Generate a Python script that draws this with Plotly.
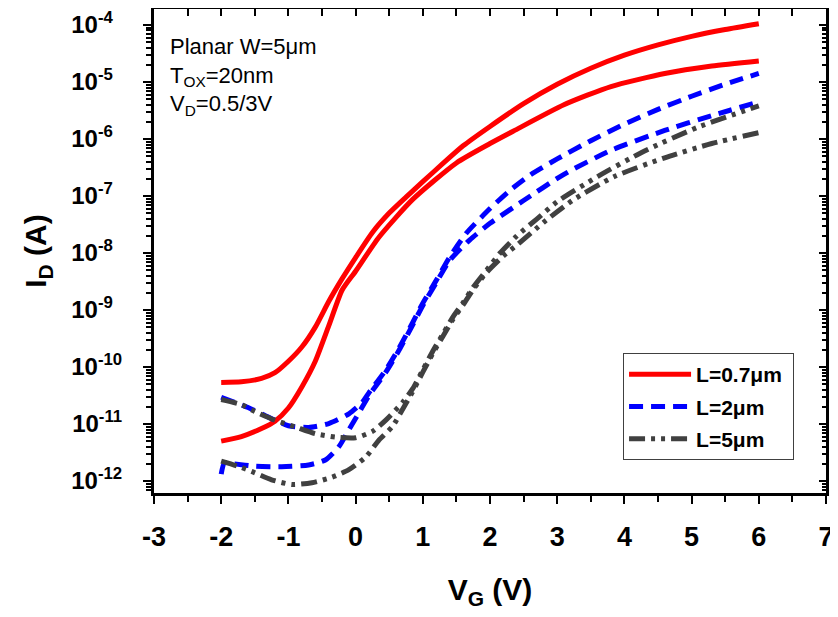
import plotly.graph_objects as go

# ---- data (V_G in volts, I_D in amperes) ----
vg_07_3v = [-2.0,-1.7,-1.4,-1.2,-1.0,-0.8,-0.6,-0.4,-0.2,0.0,0.25,0.5,0.75,1.0,1.3,1.6,2.0,2.5,3.0,3.5,4.0,4.5,5.0,5.5,6.0]
id_07_3v = [5.37e-11,5.50e-11,6.31e-11,7.94e-11,1.26e-10,2.24e-10,5.01e-10,1.41e-9,3.55e-9,8.32e-9,2.29e-8,5.01e-8,9.55e-8,1.78e-7,3.72e-7,7.59e-7,1.66e-6,4.17e-6,9.12e-6,1.74e-5,2.95e-5,4.47e-5,6.31e-5,8.32e-5,1.05e-4]

vg_07_05v = [-2.0,-1.7,-1.4,-1.2,-1.0,-0.8,-0.6,-0.4,-0.2,0.0,0.35,0.85,1.5,2.0,2.35,3.1,3.8,4.6,5.3,6.0]
id_07_05v = [5.01e-12,6.03e-12,8.32e-12,1.12e-11,1.91e-11,4.47e-11,1.26e-10,5.25e-10,2.24e-9,4.79e-9,1.91e-8,8.71e-8,3.80e-7,8.32e-7,1.38e-6,3.98e-6,8.32e-6,1.41e-5,1.91e-5,2.34e-5]

vg_2_3v = [-2.0,-1.6,-1.3,-1.0,-0.7,-0.4,-0.1,0.1,0.2,0.45,0.65,0.85,1.0,1.2,1.4,1.65,2.0,2.3,2.6,3.0,3.5,4.0,4.5,5.0,5.5,6.0]
id_2_3v = [2.95e-11,1.95e-11,1.32e-11,9.33e-12,8.71e-12,1.02e-11,1.51e-11,2.40e-11,3.55e-11,8.91e-11,2.19e-10,6.03e-10,1.32e-9,3.31e-9,8.51e-9,2.24e-8,6.03e-8,1.26e-7,2.34e-7,4.47e-7,9.33e-7,1.82e-6,3.31e-6,5.62e-6,9.12e-6,1.41e-5]

vg_2_05v = [-2.0,-1.95,-1.8,-1.5,-1.1,-0.7,-0.45,-0.25,-0.1,0.05,0.2,0.45,0.65,0.85,1.0,1.2,1.4,1.7,2.0,2.5,3.1,3.8,4.6,5.3,6.0]
id_2_05v = [1.32e-12,2.09e-12,2.00e-12,1.82e-12,1.78e-12,1.91e-12,2.34e-12,3.98e-12,7.94e-12,1.58e-11,3.16e-11,8.13e-11,2.00e-10,5.50e-10,1.20e-9,3.02e-9,7.41e-9,1.70e-8,3.31e-8,8.32e-8,2.40e-7,6.31e-7,1.41e-6,2.57e-6,4.47e-6]

vg_5_3v = [-2.0,-1.7,-1.5,-1.2,-0.9,-0.6,-0.3,0.0,0.25,0.45,0.7,0.85,1.0,1.15,1.3,1.45,1.6,1.75,1.95,2.15,2.4,2.7,3.0,3.6,4.3,5.1,5.8,6.0]
id_5_3v = [2.69e-11,2.19e-11,1.66e-11,1.17e-11,8.91e-12,6.76e-12,5.89e-12,5.75e-12,7.41e-12,1.17e-11,2.40e-11,4.17e-11,8.91e-11,1.91e-10,3.80e-10,7.59e-10,1.35e-9,2.51e-9,5.01e-9,1.00e-8,2.00e-8,3.98e-8,7.94e-8,2.19e-7,6.17e-7,1.62e-6,3.16e-6,3.80e-6]

vg_5_05v = [-2.0,-1.75,-1.55,-1.25,-0.95,-0.65,-0.35,-0.1,0.15,0.35,0.55,0.7,0.85,1.0,1.15,1.3,1.45,1.6,1.75,1.95,2.2,2.4,2.8,3.25,3.85,4.6,5.3,6.0]
id_5_05v = [2.24e-12,1.82e-12,1.48e-12,1.05e-12,8.71e-13,9.33e-13,1.17e-12,1.58e-12,2.63e-12,5.25e-12,9.12e-12,1.82e-11,3.72e-11,8.13e-11,1.74e-10,3.47e-10,6.92e-10,1.23e-9,2.29e-9,4.57e-9,8.91e-9,1.38e-8,3.47e-8,8.71e-8,2.19e-7,4.68e-7,8.32e-7,1.29e-6]

legend_names = ["L=0.7\u03bcm\u00a0", "L=2\u03bcm", "L=5\u03bcm"]
x_tick_values = [-3, -2, -1, 0, 1, 2, 3, 4, 5, 6, 7]
x_tick_labels = ["-3", "-2", "-1", "0", "1", "2", "3", "4", "5", "6", "7"]
y_tick_exponents = [-12, -11, -10, -9, -8, -7, -6, -5, -4]
x_range = [-3, 7]
y_range_log = [-12.21, -3.72]

y_tick_values = [10.0 ** e for e in y_tick_exponents]
# labels roughly left-aligned as in the original: pad one-digit exponents
y_tick_labels = ["10<sup>%d%s</sup>" % (e, "" if e <= -10 else "\u00a0\u00a0") for e in y_tick_exponents]

RED = "#FF0000"
BLUE = "#0000FF"
GRAY = "#404040"
BLUE_DASH = "14px,8px"
GRAY_DASH = "16px,6px,4px,6px,4px,6px"

fig = go.Figure()

def add(x, y, color, dash, name, show):
    fig.add_trace(go.Scatter(
        x=x, y=y, mode="lines", name=name, showlegend=show, legendgroup=name,
        line=dict(color=color, width=5, dash=dash, shape="spline", smoothing=0.6),
        hoverinfo="skip"))

add(vg_07_3v, id_07_3v, RED, "solid", legend_names[0], True)
add(vg_07_05v, id_07_05v, RED, "solid", legend_names[0], False)
add(vg_2_3v, id_2_3v, BLUE, BLUE_DASH, legend_names[1], True)
add(vg_2_05v, id_2_05v, BLUE, BLUE_DASH, legend_names[1], False)
add(vg_5_3v, id_5_3v, GRAY, GRAY_DASH, legend_names[2], True)
add(vg_5_05v, id_5_05v, GRAY, GRAY_DASH, legend_names[2], False)

# dummy trace for the mirrored (top/right) axes
fig.add_trace(go.Scatter(x=[None], y=[None], xaxis="x2", yaxis="y2",
                         showlegend=False, hoverinfo="skip"))

FONT = "Liberation Sans"
# the page body has an 8px margin, so the figure is 830x609 drawn at (8, 8)
fig.update_layout(
    width=830, height=609,
    margin=dict(l=146, r=12, t=1, b=124, autoexpand=False),
    paper_bgcolor="white", plot_bgcolor="white",
    font=dict(family=FONT, color="black"),
    showlegend=True,
    legend=dict(x=0.698, y=0.289, xanchor="left", yanchor="top",
                bordercolor="#404040", borderwidth=1, bgcolor="white",
                font=dict(family=FONT, size=21, color="black", weight="bold"),
                tracegroupgap=2, itemwidth=62),
    xaxis=dict(range=x_range, tickmode="array", tickvals=x_tick_values, ticktext=x_tick_labels,
               automargin=False, showgrid=False, zeroline=False,
               showline=True, linewidth=3, linecolor="black", mirror=True,
               ticks="outside", ticklen=8, tickwidth=2, tickcolor="black",
               ticklabelstandoff=10,
               minor=dict(dtick=0.5, ticks="outside", ticklen=6, tickwidth=2, tickcolor="black", showgrid=False),
               tickfont=dict(family=FONT, size=27, weight="bold"),
               title=dict(text="V<sub>G</sub> (V)", standoff=28,
                          font=dict(family=FONT, size=30, weight="bold"))),
    yaxis=dict(type="log", range=y_range_log, tickmode="array", tickvals=y_tick_values, ticktext=y_tick_labels,
               automargin=False, showgrid=False, zeroline=False,
               showline=True, linewidth=3, linecolor="black", mirror=True,
               ticks="outside", ticklen=8, tickwidth=2, tickcolor="black",
               ticklabelstandoff=16,
               minor=dict(dtick="D1", ticks="outside", ticklen=5, tickwidth=1.5, tickcolor="black", showgrid=False),
               tickfont=dict(family=FONT, size=24, weight="bold"),
               title=dict(text="I<sub>D</sub> (A)", standoff=16,
                          font=dict(family=FONT, size=30, weight="bold"))),
    xaxis2=dict(overlaying="x", side="top", range=x_range, dtick=1, showgrid=False,
                automargin=False, zeroline=False, showline=False, showticklabels=False,
                ticks="inside", ticklen=7, tickwidth=2, tickcolor="black",
                minor=dict(dtick=0.5, ticks="inside", ticklen=7, tickwidth=2, tickcolor="black")),
    yaxis2=dict(overlaying="y", side="right", type="log", range=y_range_log, dtick=1,
                automargin=False, showgrid=False, zeroline=False, showline=False, showticklabels=False,
                ticks="inside", ticklen=7, tickwidth=2, tickcolor="black",
                minor=dict(dtick="D1", ticks="inside", ticklen=4, tickwidth=1.5, tickcolor="black")),
)

fig.add_annotation(
    xref="paper", yref="paper", x=0.021, y=0.952, xanchor="left", yanchor="top",
    align="left", showarrow=False,
    text="Planar W=5\u03bcm<br>T<sub>OX</sub>=20nm<br>V<sub>D</sub>=0.5/3V",
    font=dict(family=FONT, size=22, color="black"))

fig.write_html("out.html")
